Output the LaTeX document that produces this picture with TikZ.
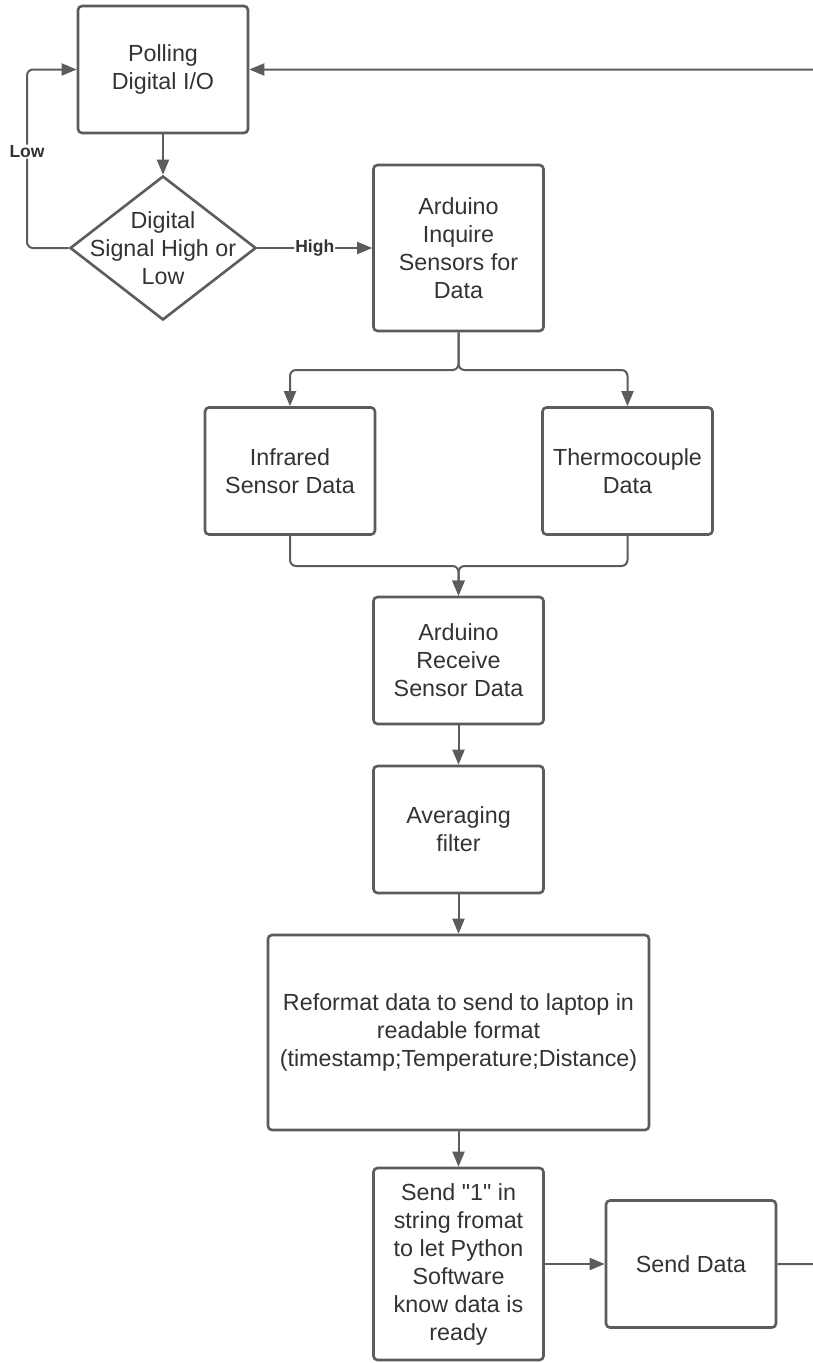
\documentclass[tikz,border=0pt]{standalone}
\usepackage{fontspec}
\setmainfont{Liberation Sans}[Ligatures=TeXOff]
\usetikzlibrary{arrows.meta,shapes.geometric}
\definecolor{lineGray}{RGB}{92,92,92}
\definecolor{textGray}{RGB}{51,51,51}

\begin{document}
\begin{tikzpicture}[
  x=1pt, y=-1pt,
  every node/.style={text=textGray,align=center,font=\fontsize{23.3}{28}\selectfont},
  process/.style={rectangle,draw=lineGray,line width=2.6pt,rounded corners=4pt,fill=white,inner sep=0pt,minimum width=170pt,minimum height=127pt},
  decision/.style={diamond,draw=lineGray,line width=2.6pt,fill=white,inner sep=0pt,minimum width=186pt,minimum height=144pt},
  flow/.style={draw=lineGray,line width=2pt,rounded corners=6pt,-{Triangle[length=15pt,width=12pt]}},
  branch/.style={fill=white,inner sep=1pt,font=\fontsize{17.5}{20}\selectfont\bfseries}]

  \useasboundingbox (0,0) rectangle (812,1363);

  \node(polling) [process] at (163,69.5)  {Polling\\Digital I/O};
  \node(decide)  [decision,label={center:{Digital\\Signal High or\\Low}}] at (163,248) {};
  \node(inquire) [process,minimum height=166pt] at (458.5,248) {Arduino\\Inquire\\Sensors for\\Data};
  \node(infrared)[process] at (290,471)   {Infrared\\Sensor Data};
  \node(thermo)  [process] at (627.5,471) {Thermocouple\\Data};
  \node(receive) [process] at (458.5,660.5) {Arduino\\Receive\\Sensor Data};
  \node(average) [process] at (458.5,829.5) {Averaging\\filter};
  \node(reformat)[process,minimum width=381pt,minimum height=195pt] at (458.5,1032.5)
    {Reformat data to send to laptop in\\readable format\\(timestamp;Temperature;Distance)};
  \node(sendone) [process,minimum height=192pt] at (458.5,1264)
    {Send "1" in\\string fromat\\to let Python\\Software\\know data is\\ready};
  \node(senddata)[process] at (691,1264) {Send Data};

  \draw[flow] (polling) -- (decide);
  \draw[flow] (decide.west) -- (27,248) -- node[branch,pos=0.54]{Low} (27,69.5) -- (polling.west);
  \draw[flow] (decide.east) -- node[branch]{High} (inquire.west);

  \draw[flow] (inquire.south) -- (inquire.south |- 0,370) -| (infrared.north);
  \draw[flow] (inquire.south) -- (inquire.south |- 0,370) -| (thermo.north);
  \draw[flow] (infrared.south) |- (receive.north |- 0,566) -- (receive.north);
  \draw[flow] (thermo.south) |- (receive.north |- 0,566) -- (receive.north);

  \draw[flow] (receive) -- (average);
  \draw[flow] (average) -- (reformat);
  \draw[flow] (reformat) -- (sendone);
  \draw[flow] (sendone) -- (senddata);
  \draw[flow] (senddata.east) -- (840,1264) |- (polling.east);

\end{tikzpicture}
\end{document}
